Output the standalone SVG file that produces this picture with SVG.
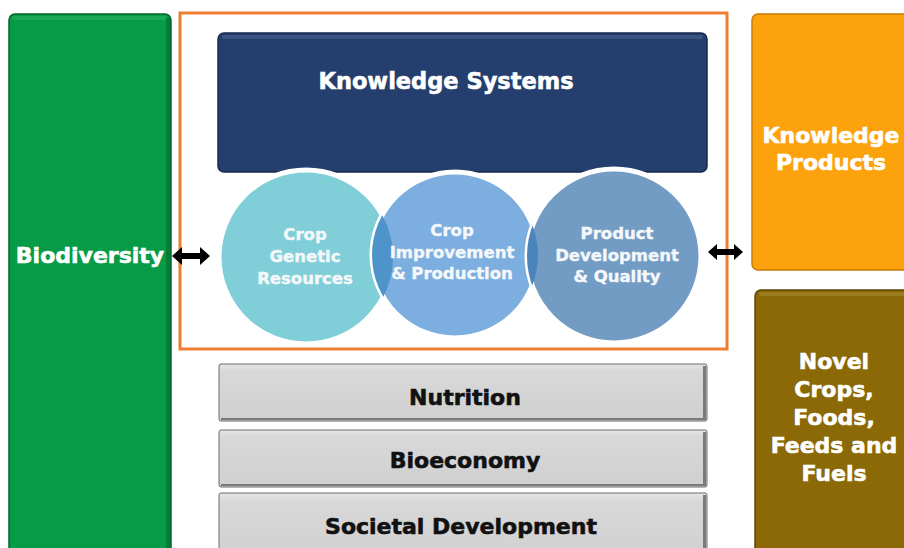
<svg xmlns="http://www.w3.org/2000/svg" width="904" height="548" viewBox="0 0 904 548">
<defs>
<linearGradient id="gGray" x1="0" y1="0" x2="0" y2="1">
<stop offset="0" stop-color="#e6e6e6"/><stop offset="0.12" stop-color="#d8d8d8"/><stop offset="1" stop-color="#d0d0d0"/>
</linearGradient>
<clipPath id="c2"><circle cx="455" cy="255" r="83"/></clipPath>
<clipPath id="c3"><circle cx="614" cy="256" r="87"/></clipPath>
</defs>
<style>
text{font-family:"DejaVu Sans","Liberation Sans",sans-serif;font-weight:bold;text-anchor:middle}
.w{fill:#ffffff;stroke:#ffffff;stroke-width:0.6}
.ct{fill:#f4f8fb;stroke:#f4f8fb;stroke-width:0.4;font-size:16.5px}
.big{font-size:22px}
.k{fill:#111111;stroke:#111111;stroke-width:0.6}
.gray{fill:url(#gGray);stroke:#6d6d6d;stroke-width:1}
.edge{fill:#7a7a7a}
.circ{stroke:#ffffff;stroke-width:5}
</style>
<rect width="904" height="548" fill="#ffffff"/>

<g id="biodiversity">
<rect x="9" y="14" width="162" height="545" rx="6" fill="#079b47" stroke="#05632d" stroke-width="1.5"/>
<rect x="12" y="16" width="155" height="4" rx="2" fill="#2bb363" opacity="0.6"/>
<rect x="166" y="18" width="4" height="541" fill="#05702f" opacity="0.7"/>
<text class="w big" x="90" y="263">Biodiversity</text>
</g>

<g id="frame">
<rect x="180" y="13" width="547" height="336" fill="none" stroke="#ed7d31" stroke-width="3"/>
</g>

<g id="knowledge-systems">
<rect x="218" y="33" width="489" height="139" rx="6" fill="#243f6d" stroke="#162a4c" stroke-width="1.5"/>
<rect x="222" y="35" width="481" height="4" rx="2" fill="#4a6390" opacity="0.6"/>
<text class="w" x="446" y="89" font-size="22.5">Knowledge Systems</text>
</g>

<g id="crop-genetic-resources">
<circle class="circ" cx="306" cy="257" r="87" fill="#80cfd8"/>
<text class="ct" x="305" y="240">Crop</text>
<text class="ct" x="305" y="262">Genetic</text>
<text class="ct" x="305" y="284">Resources</text>
</g>

<g id="crop-improvement">
<circle class="circ" cx="455" cy="255" r="83" fill="#7caedf"/>
<circle cx="306" cy="257" r="87" fill="#4f93cb" clip-path="url(#c2)"/>
<text class="ct" x="452" y="236">Crop</text>
<text class="ct" x="452" y="258">Improvement</text>
<text class="ct" x="452" y="279">&amp; Production</text>
</g>

<g id="product-development">
<circle class="circ" cx="614" cy="256" r="87" fill="#739cc4"/>
<circle cx="455" cy="255" r="83" fill="#4b84ba" clip-path="url(#c3)"/>
<text class="ct" x="617" y="239">Product</text>
<text class="ct" x="617" y="261">Development</text>
<text class="ct" x="617" y="282">&amp; Quality</text>
</g>

<g id="knowledge-products">
<rect x="752" y="14" width="170" height="256" rx="6" fill="#fca20c" stroke="#c97c05" stroke-width="1.5"/>
<text class="w big" x="831" y="143">Knowledge</text>
<text class="w big" x="831" y="170">Products</text>
</g>

<g id="novel-crops">
<rect x="755" y="290" width="170" height="270" rx="6" fill="#8a6906" stroke="#5e4603" stroke-width="1.5"/>
<rect x="759" y="292" width="160" height="4" rx="2" fill="#a88a2e" opacity="0.6"/>
<text class="w big" x="834" y="369">Novel</text>
<text class="w big" x="834" y="397">Crops,</text>
<text class="w big" x="834" y="425">Foods,</text>
<text class="w big" x="834" y="453">Feeds and</text>
<text class="w big" x="834" y="481">Fuels</text>
</g>

<g id="nutrition">
<rect class="gray" x="219" y="364" width="488" height="57" rx="2"/>
<rect class="edge" x="703" y="366" width="3" height="54"/>
<rect class="edge" x="221" y="418" width="485" height="2"/>
<text class="k big" x="465" y="405">Nutrition</text>
</g>
<g id="bioeconomy">
<rect class="gray" x="219" y="430" width="488" height="57" rx="2"/>
<rect class="edge" x="703" y="432" width="3" height="54"/>
<rect class="edge" x="221" y="484" width="485" height="2"/>
<text class="k big" x="465" y="468">Bioeconomy</text>
</g>
<g id="societal-development">
<rect class="gray" x="219" y="493" width="488" height="70" rx="2"/>
<rect class="edge" x="703" y="495" width="3" height="60"/>
<text class="k big" x="461" y="534">Societal Development</text>
</g>

<g id="connectors" fill="#000000">
<polygon points="172,256 182,247 182,253 200,253 200,247 210,256 200,265 200,259 182,259 182,265"/>
<polygon points="708,252 717,244 717,249 734,249 734,244 743,252 734,260 734,255 717,255 717,260"/>
</g>
</svg>
